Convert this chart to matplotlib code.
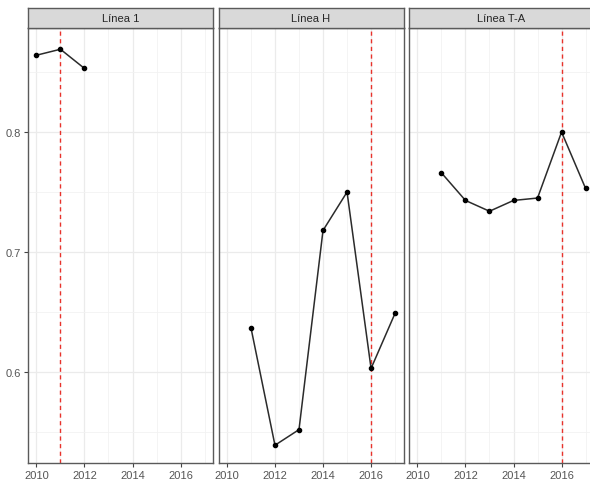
import matplotlib
matplotlib.use("Agg")
import matplotlib.pyplot as plt
from matplotlib.ticker import MultipleLocator

plt.rcParams['font.family'] = ['Liberation Sans', 'DejaVu Sans']

# Datos
paneles = ["Línea 1", "Línea H", "Línea T-A"]
anios_l1 = [2010, 2011, 2012]
valores_l1 = [0.864, 0.869, 0.853]
anios_h = [2011, 2012, 2013, 2014, 2015, 2016, 2017]
valores_h = [0.637, 0.539, 0.552, 0.718, 0.750, 0.603, 0.649]
anios_ta = [2011, 2012, 2013, 2014, 2015, 2016, 2017]
valores_ta = [0.766, 0.743, 0.734, 0.743, 0.745, 0.800, 0.753]
cortes = [2011, 2016, 2016]

series = [(anios_l1, valores_l1), (anios_h, valores_h), (anios_ta, valores_ta)]

W, H = 590, 485
fig = plt.figure(figsize=(W / 100, H / 100), dpi=100)
fig.patch.set_facecolor("white")

izq0 = 28
ancho = 185
paso = 190.5
abajo = 21
alto = 435
strip_alto = 20
borde = "#5a5a5a"

for i, nombre in enumerate(paneles):
    x0 = izq0 + i * paso
    ax = fig.add_axes([x0 / W, abajo / H, ancho / W, alto / H])
    anios, valores = series[i]

    ax.set_xlim(2009.65, 2017.35)
    ax.set_ylim(0.5242, 0.8867)
    ax.xaxis.set_major_locator(MultipleLocator(2))
    ax.xaxis.set_minor_locator(MultipleLocator(1))
    ax.yaxis.set_major_locator(MultipleLocator(0.1))
    ax.yaxis.set_minor_locator(MultipleLocator(0.05))
    ax.grid(True, which="major", color="#ebebeb", lw=0.9, zorder=0)
    ax.grid(True, which="minor", color="#f2f2f2", lw=0.6, zorder=0)
    ax.set_axisbelow(True)

    ax.axvline(cortes[i], color="#e8322b", ls=(0, (3, 2.5)), lw=1.0, zorder=2)
    ax.plot(anios, valores, color="#2b2b2b", lw=1.1, zorder=3)
    ax.scatter(anios, valores, color="black", s=9, zorder=4)

    for s in ax.spines.values():
        s.set_color(borde)
        s.set_linewidth(1.0)

    ax.tick_params(which="major", length=3, width=0.8, color="#444444",
                   labelsize=8, labelcolor="#555555", pad=2)
    ax.tick_params(which="minor", length=0)
    ax.set_xticks([2010, 2012, 2014, 2016])
    ax.set_xticklabels(["2010", "2012", "2014", "2016"])
    if i == 0:
        ax.set_yticks([0.6, 0.7, 0.8])
        ax.set_yticklabels(["0.6", "0.7", "0.8"])
    else:
        ax.tick_params(axis="y", which="both", left=False, labelleft=False)

    # tira del facet
    st = fig.add_axes([x0 / W, (abajo + alto) / H, ancho / W, strip_alto / H])
    st.set_facecolor("#d9d9d9")
    st.set_xticks([])
    st.set_yticks([])
    for s in st.spines.values():
        s.set_color(borde)
        s.set_linewidth(1.0)
    st.text(0.5, 0.5, nombre, ha="center", va="center", fontsize=8,
            color="#262626", transform=st.transAxes)

fig.savefig("out.png", dpi=100)
